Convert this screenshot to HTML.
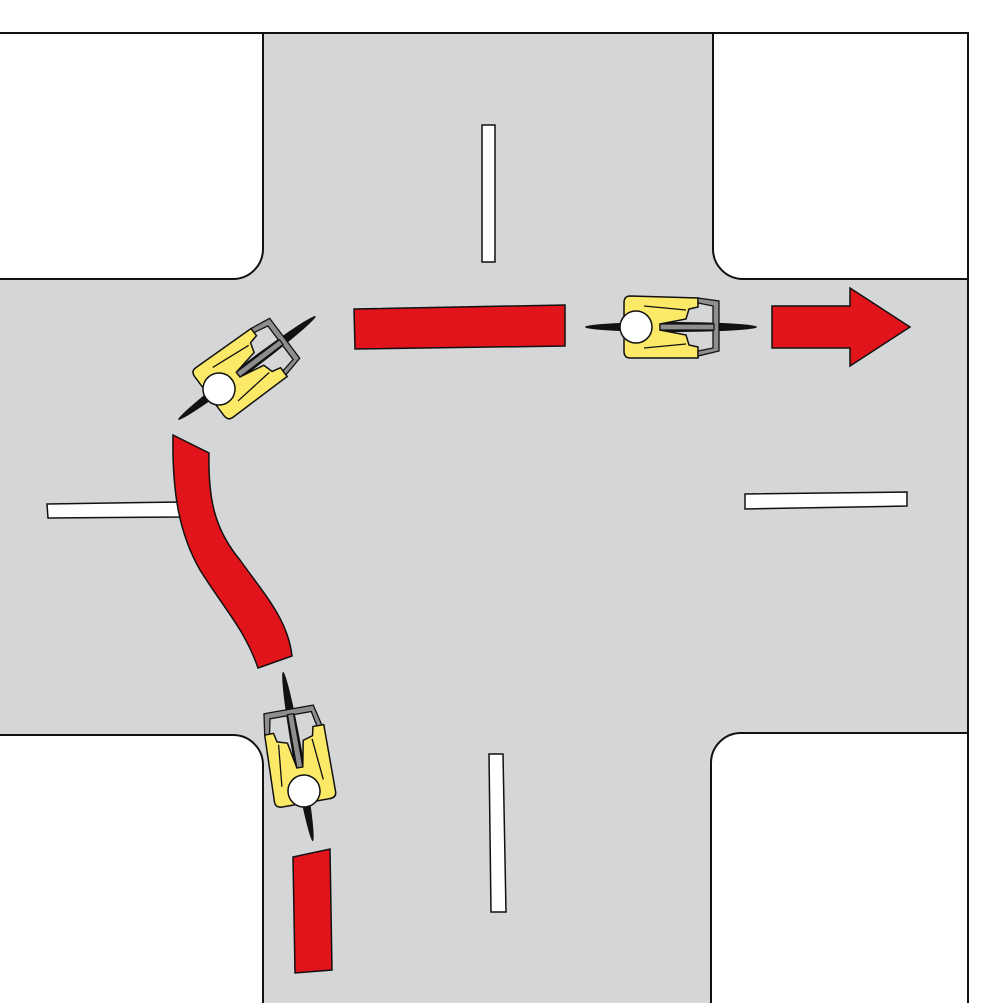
<!DOCTYPE html>
<html><head><meta charset="utf-8"><style>html,body{margin:0;padding:0;background:#fff;overflow:hidden;width:985px;height:1003px}svg{display:block}</style></head>
<body>
<svg width="985" height="1003" viewBox="0 0 985 1003" xmlns="http://www.w3.org/2000/svg">
<defs>
<g id="cy">
  <ellipse cx="35" cy="0" rx="86" ry="5" fill="#111"/>
  <path d="M-6,-31 L62,-29 L62,-20 L53,-18 L50,-8 L24,-3 L24,3 L50,8 L53,18 L62,20 L62,31 L-6,31 Q-12,31 -12,24 L-12,-24 Q-12,-31 -6,-31 Z" fill="#fbe967" stroke="#111" stroke-width="1.5"/>
  <path d="M8,-21 L50,-17 M8,21 L50,17" stroke="#111" stroke-width="1.3" fill="none"/>
  <path d="M62,-29 L83,-26 L83,24 L62,29 L62,24 L77,21 L77,-21 L62,-24 Z" fill="#8e8e8e" stroke="#111" stroke-width="1.3"/>
  <path d="M24,-3 L78,-3 L78,3 L24,3 Z" fill="#8e8e8e" stroke="#111" stroke-width="1.2"/>
  <circle cx="0" cy="0" r="16" fill="#fff" stroke="#111" stroke-width="1.5"/>
</g>
</defs>
<rect x="0" y="33" width="968" height="970" fill="#d5d6d8"/>
<g fill="#fff" stroke="#111" stroke-width="2">
  <rect x="-50" y="-20" width="313" height="299" rx="30"/>
  <rect x="713" y="-20" width="320" height="299" rx="30"/>
  <rect x="-50" y="735" width="313" height="320" rx="30"/>
  <rect x="711" y="733" width="320" height="320" rx="30"/>
</g>
<rect x="0" y="0" width="985" height="32" fill="#fff"/>
<rect x="969" y="0" width="20" height="1003" fill="#fff"/>
<path d="M0,33 L968,33 L968,1003" fill="none" stroke="#111" stroke-width="2"/>
<g fill="#fff" stroke="#111" stroke-width="1.5">
  <rect x="482" y="125" width="13" height="137"/>
  <polygon points="489,754 503,754 506,912 491,912"/>
  <polygon points="47,504 180,502 180,517 48,518"/>
  <polygon points="745,494 907,492 907,506 745,509"/>
</g>
<g fill="#e2141b" stroke="#111" stroke-width="1.5">
  <polygon points="354,309 565,305 565,346 355,349"/>
  <polygon points="772,306 850,306 850,288 910,327 850,366 850,348 772,348"/>
  <polygon points="293,857 330,849 332,970 295,973"/>
  <path d="M173,435 L209,453 C208,500 215,530 240,560 C265,595 288,620 292,656 L258,668 C245,630 225,610 200,570 C180,535 172,495 173,435 Z"/>
</g>
<use href="#cy" transform="translate(636,327)"/>
<use href="#cy" transform="translate(219,389) rotate(-37)"/>
<use href="#cy" transform="translate(304,791) rotate(-100)"/>
</svg>
</body></html>
